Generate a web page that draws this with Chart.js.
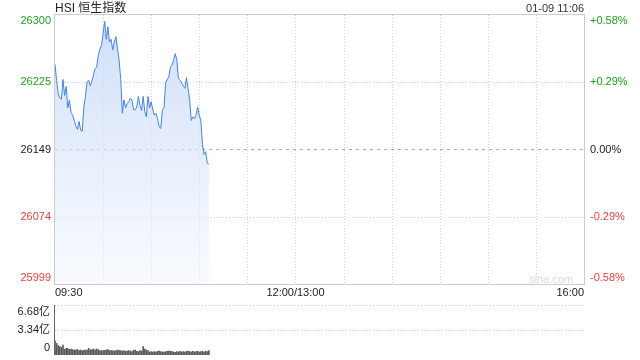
<!DOCTYPE html>
<html>
<head>
<meta charset="utf-8">
<script src="https://cdn.jsdelivr.net/npm/chart.js@4.4.1/dist/chart.umd.min.js"></script>
<style>
    body { margin: 0; width: 640px; height: 360px; background: #fff; position: relative; overflow: hidden;
           font-family: "Liberation Sans", Arial, "Noto Sans CJK SC", sans-serif; }
    canvas { position: absolute; left: 0; }
    #main { top: 0; }
    #vol { top: 300px; }
    .txt { position: absolute; white-space: nowrap; line-height: 14px; }
</style>
</head>
<body>
<canvas id="main" width="640" height="300"></canvas>
<canvas id="vol" width="640" height="60"></canvas>
<div class="txt" style="left:55px; top:1px; font-size:12px; color:#222;">HSI 恒生指数</div>
<div class="txt" style="right:56px; top:1px; font-size:11px; color:#333;">01-09 11:06</div>
<div class="txt" style="right:67px; top:272px; font-size:11px; color:#d9d9d9;">sina.com</div>
<script>
// index price, one point per minute from 09:30
const price = [
    26245, 26227, 26212, 26207, 26206, 26228, 26210, 26220, 26196, 26205,
    26191, 26188, 26182, 26176, 26172, 26181, 26171, 26170, 26197, 26209,
    26225, 26227, 26221, 26226, 26233, 26240, 26242, 26255, 26262, 26266,
    26280, 26293, 26273, 26287, 26270, 26273, 26261, 26270, 26276, 26262,
    26250, 26228, 26190, 26205, 26196, 26201, 26203, 26207, 26205, 26194,
    26194, 26197, 26209, 26199, 26193, 26209, 26192, 26186, 26209, 26196,
    26203, 26194, 26188, 26190, 26184, 26175, 26173, 26194, 26196, 26224,
    26228, 26231, 26242, 26244, 26250, 26257, 26250, 26229, 26227, 26224,
    26221, 26218, 26230, 26218, 26205, 26182, 26186, 26184, 26188, 26197,
    26188, 26181, 26155, 26144, 26147, 26134, 26133
];

// turnover per minute, in 亿
const volume = [
    1.87, 1.56, 1.25, 1.11, 1.02, 1.34, 0.76, 0.89, 0.85, 0.76,
    0.80, 0.71, 0.67, 0.67, 0.76, 0.58, 0.67, 0.58, 0.62, 0.67,
    0.67, 0.89, 0.67, 0.71, 0.80, 0.67, 0.80, 0.71, 0.58, 0.58,
    0.58, 0.62, 0.67, 0.71, 0.58, 0.62, 0.58, 0.53, 0.58, 0.67,
    0.62, 0.58, 0.53, 0.58, 0.49, 0.53, 0.58, 0.53, 0.45, 0.62,
    0.67, 0.49, 0.45, 0.58, 0.53, 1.11, 0.80, 0.67, 0.58, 0.40,
    0.45, 0.40, 0.45, 0.40, 0.49, 0.53, 0.45, 0.40, 0.40, 0.45,
    0.49, 0.53, 0.49, 0.45, 0.40, 0.36, 0.45, 0.40, 0.49, 0.40,
    0.45, 0.40, 0.49, 0.53, 0.45, 0.40, 0.49, 0.40, 0.45, 0.49,
    0.40, 0.45, 0.49, 0.40, 0.53, 0.45, 0.58
];

const preClose = 26149.4;
const yMin = 25998.5;
const yMax = 26300.3;
const priceTicks = ['25999', '26074', '26149', '26225', '26300'];
const pctTicks = ['-0.58%', '-0.29%', '0.00%', '+0.29%', '+0.58%'];
const tickColors = ['#f03c3c', '#f03c3c', '#222', '#1ba51b', '#1ba51b'];

const sessionMinutes = 330;          // 09:30-12:00 + 13:00-16:00
const xTickMinutes = [0, 150, 330];
const xTickLabels = ['09:30', '12:00/13:00', '16:00'];

const volMax = 6.68;
const volTickValues = [0, 3.34, 6.68];
const volTickLabels = ['0', '3.34亿', '6.68亿'];

const FONT = '11px "Liberation Sans", Arial, "Noto Sans CJK SC", sans-serif';

function hLine(ctx, a, py) {
    ctx.beginPath();
    ctx.moveTo(a.left, py);
    ctx.lineTo(a.right, py);
    ctx.stroke();
}

// grid, frame and axis texts for the price chart
const mainDecor = {
    id: 'mainDecor',
    beforeDatasetsDraw(chart) {
        const { ctx, chartArea: a, scales: { x, y } } = chart;
        ctx.save();
        ctx.lineWidth = 1;
        ctx.strokeStyle = '#cfcfcf';
        ctx.setLineDash([1, 2]);
        for (let m = 30; m < sessionMinutes; m += 30) {
            const px = Math.round(x.getPixelForValue(m)) + 0.5;
            ctx.beginPath();
            ctx.moveTo(px, a.top);
            ctx.lineTo(px, a.bottom);
            ctx.stroke();
        }
        const step = (yMax - yMin) / 4;
        [1, 3].forEach(i => hLine(ctx, a, Math.round(y.getPixelForValue(yMin + step * i)) + 0.5));
        ctx.strokeStyle = '#aaa';
        ctx.setLineDash([3, 4]);
        hLine(ctx, a, Math.round(y.getPixelForValue(preClose)) + 0.5);
        ctx.restore();
    },
    afterDraw(chart) {
        const { ctx, chartArea: a, scales: { x, y } } = chart;
        ctx.save();
        ctx.strokeStyle = '#cccccc';
        ctx.lineWidth = 1;
        ctx.strokeRect(Math.round(a.left) - 0.5, Math.round(a.top) - 0.5,
                       Math.round(a.right - a.left) + 1, Math.round(a.bottom - a.top) + 1);

        ctx.font = FONT;
        ctx.textBaseline = 'middle';
        const step = (yMax - yMin) / 4;
        priceTicks.forEach((lab, i) => {
            let py = y.getPixelForValue(yMin + step * i);
            py = Math.min(Math.max(py, a.top + 6), a.bottom - 6);
            ctx.fillStyle = tickColors[i];
            ctx.textAlign = 'right';
            ctx.fillText(lab, a.left - 4, py);
            ctx.textAlign = 'left';
            ctx.fillText(pctTicks[i], a.right + 6, py);
        });

        ctx.fillStyle = '#222';
        xTickMinutes.forEach((m, i) => {
            ctx.textAlign = i === 0 ? 'left' : (i === xTickMinutes.length - 1 ? 'right' : 'center');
            ctx.fillText(xTickLabels[i], x.getPixelForValue(m), a.bottom + 9);
        });
        ctx.restore();
    }
};

const volDecor = {
    id: 'volDecor',
    beforeDatasetsDraw(chart) {
        const { ctx, chartArea: a, scales: { y } } = chart;
        ctx.save();
        ctx.lineWidth = 1;
        ctx.strokeStyle = '#cfcfcf';
        ctx.setLineDash([1, 2]);
        volTickValues.slice(1).forEach(v => hLine(ctx, a, Math.round(y.getPixelForValue(v)) + 0.5));
        ctx.setLineDash([]);
        ctx.strokeStyle = '#666';
        const lx = Math.round(a.left) - 0.5;
        ctx.beginPath();
        ctx.moveTo(lx, a.top);
        ctx.lineTo(lx, a.bottom);
        ctx.stroke();

        ctx.font = FONT;
        ctx.textBaseline = 'middle';
        ctx.textAlign = 'right';
        ctx.fillStyle = '#222';
        volTickValues.forEach((v, i) => {
            let py = y.getPixelForValue(v);
            py = Math.min(Math.max(py, a.top + 7), a.bottom - 7);
            ctx.fillText(volTickLabels[i], a.left - 5, py);
        });
        ctx.restore();
    }
};

new Chart(document.getElementById('main'), {
    type: 'line',
    data: {
        datasets: [{
            data: price.map((v, i) => ({ x: i, y: v })),
            borderColor: '#4283e8',
            borderWidth: 1,
            pointRadius: 0,
            tension: 0,
            fill: 'start',
            backgroundColor: (context) => {
                const { chart } = context;
                const a = chart.chartArea;
                if (!a) return 'rgba(200,218,246,0.6)';
                const g = chart.ctx.createLinearGradient(0, a.top, 0, a.bottom);
                g.addColorStop(0, 'rgba(196,215,246,0.85)');
                g.addColorStop(1, 'rgba(240,245,253,0.5)');
                return g;
            }
        }]
    },
    options: {
        responsive: false,
        animation: false,
        events: [],
        layout: { padding: { left: 55, right: 56, top: 15, bottom: 16 } },
        plugins: { legend: { display: false }, tooltip: { enabled: false } },
        scales: {
            x: { type: 'linear', min: 0, max: sessionMinutes, display: false },
            y: { min: yMin, max: yMax, display: false }
        }
    },
    plugins: [mainDecor]
});

new Chart(document.getElementById('vol'), {
    type: 'bar',
    data: {
        datasets: [{
            data: volume.map((v, i) => ({ x: i, y: v })),
            backgroundColor: '#5a5a5a',
            barThickness: 1
        }]
    },
    options: {
        responsive: false,
        animation: false,
        events: [],
        layout: { padding: { left: 55, right: 56, top: 5, bottom: 5 } },
        plugins: { legend: { display: false }, tooltip: { enabled: false } },
        scales: {
            x: { type: 'linear', min: 0, max: sessionMinutes, offset: false, display: false },
            y: { min: 0, max: volMax, display: false }
        }
    },
    plugins: [volDecor]
});
</script>
</body>
</html>
